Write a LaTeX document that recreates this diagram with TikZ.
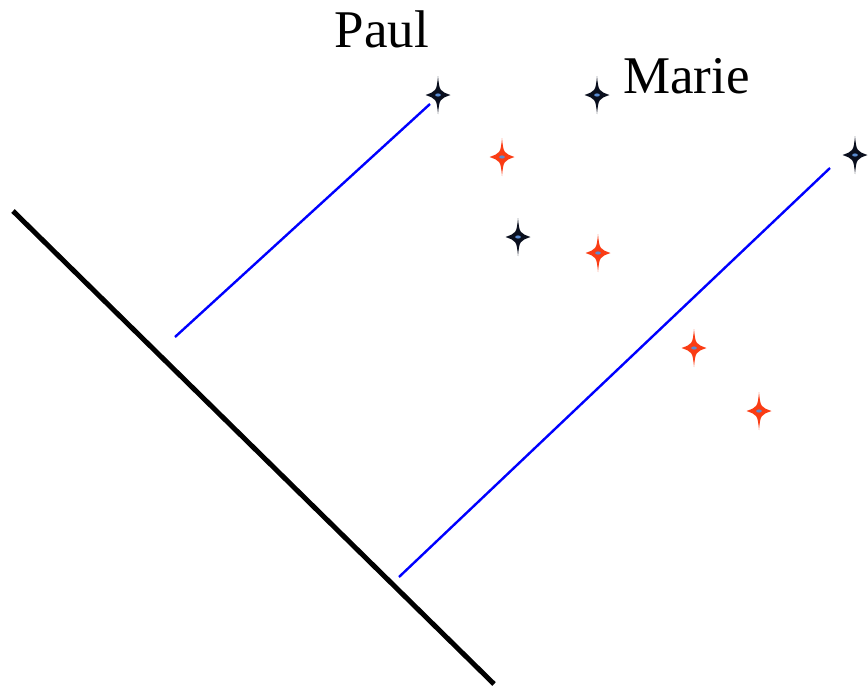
\documentclass[tikz,border=0pt]{standalone}
\usepackage{fontspec}
\setmainfont{Liberation Serif}
\definecolor{starred}{RGB}{250,60,20}
\definecolor{starblack}{RGB}{10,15,30}
\definecolor{starcore}{RGB}{90,140,210}
\tikzset{
  x=1pt,y=-1pt,
  mainline/.style={line width=5pt,black},
  projline/.style={line width=2.4pt,blue},
  lbl/.style={font=\rmfamily\fontsize{53}{53}\selectfont,inner sep=0pt},
  pics/fourstar/.style={code={
    \fill[#1] (0,-19) .. controls (1.5,-4) .. (12.5,0) .. controls (1.5,4) .. (0,19)
      .. controls (-1.5,4) .. (-12.5,0) .. controls (-1.5,-4) .. cycle;
    \fill[starcore] (0,0) ellipse (2.8 and 1.6);
  }}
}
\begin{document}
\begin{tikzpicture}
\useasboundingbox (0,0) rectangle (868,686);
\coordinate (L1) at (13,211);
\coordinate (L2) at (494,684);
\draw[mainline] (L1) -- (L2);
\coordinate (A1) at (175,337);
\coordinate (A2) at (430,104);
\draw[projline] (A1) -- (A2);
\coordinate (B1) at (399,577);
\coordinate (B2) at (830,168);
\draw[projline] (B1) -- (B2);
\pic (s1) at (438,95) {fourstar=starblack};
\pic (s2) at (597,95) {fourstar=starblack};
\pic (s3) at (518,237) {fourstar=starblack};
\pic (s4) at (855,155) {fourstar=starblack};
\pic (r1) at (502,157) {fourstar=starred};
\pic (r2) at (598,253) {fourstar=starred};
\pic (r3) at (694,348) {fourstar=starred};
\pic (r4) at (759,411) {fourstar=starred};
\node[lbl,anchor=base] (paul) at (382,47) {Paul};
\node[lbl,anchor=base west] (marie) at (623,93) {Marie};
\end{tikzpicture}
\end{document}
